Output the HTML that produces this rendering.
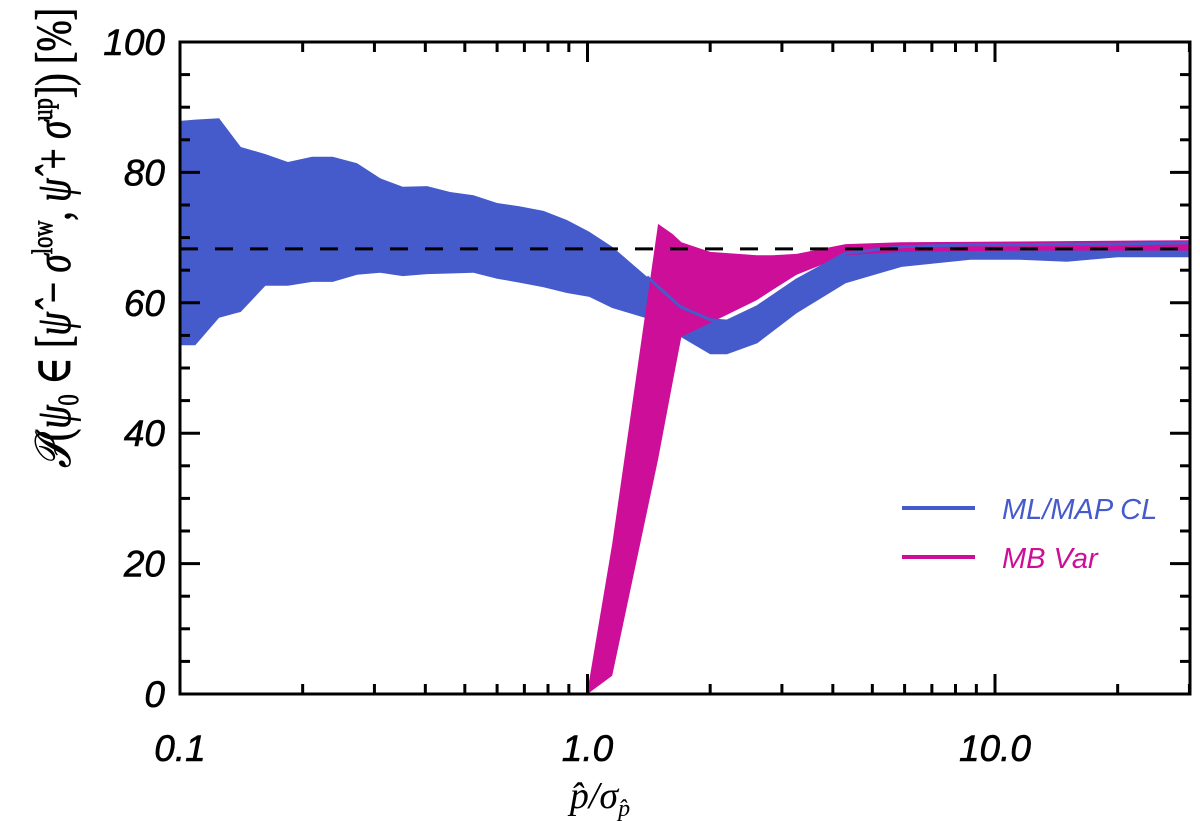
<!DOCTYPE html>
<html><head><meta charset="utf-8"><style>
html,body{margin:0;padding:0;background:#fff;}
svg{display:block;}
.tk{font-family:"Liberation Sans",sans-serif;font-style:italic;font-size:37px;fill:#000;stroke:#000;stroke-width:0.6px;}
.ml{font-family:"Liberation Serif","DejaVu Serif",serif;fill:#000;}
</style></head><body>
<svg id="chart" width="1200" height="821" xmlns="http://www.w3.org/2000/svg">
<g id="bands"></g>
<g id="axes"></g>
<g>
<line x1="902" y1="508" x2="975" y2="508" stroke="#465bcb" stroke-width="4"/>
<text x="1002" y="519" class="tk" style="font-size:29px;fill:#465bcb;stroke:none">ML/MAP CL</text>
<line x1="902" y1="557" x2="975" y2="557" stroke="#cc0e98" stroke-width="4"/>
<text x="1002" y="568" class="tk" style="font-size:29px;fill:#cc0e98;stroke:none">MB Var</text>
</g>
<text class="ml" x="600" y="808" text-anchor="middle" font-size="38" font-style="italic">p̂/σ<tspan font-size="24" dy="8">p̂</tspan></text>
<text class="ml" transform="translate(70,238) rotate(-90)" text-anchor="middle" font-size="50" stroke="#000" stroke-width="0.8" textLength="460" lengthAdjust="spacingAndGlyphs"><tspan font-style="italic">𝒫</tspan>(<tspan font-style="italic">ψ</tspan><tspan font-size="30" dy="8">0</tspan><tspan dy="-8"> ∈ [</tspan><tspan font-style="italic">ψ̂</tspan> − <tspan font-style="italic">σ</tspan><tspan font-size="30" dy="-18">low</tspan><tspan dy="18">, </tspan><tspan font-style="italic">ψ̂</tspan> + <tspan font-style="italic">σ</tspan><tspan font-size="30" dy="-18">up</tspan><tspan dy="18">]) [%]</tspan></text>
</svg>
<script>
const blueX=[0.1,0.109,0.1247,0.141,0.162,0.184,0.211,0.237,0.272,0.31,0.352,0.404,0.46,0.525,0.6,0.68,0.78,0.89,1.01,1.15,1.4,1.69,2.0,2.2,2.61,3.26,4.3,5.9,8.7,11.5,15,20,30];
const blueHigh=[87.9,88.1,88.3,83.9,82.8,81.6,82.4,82.4,81.4,79.1,77.8,77.9,77.0,76.5,75.3,74.8,74.1,72.7,70.9,68.6,64.0,59.4,57.4,57.2,59.4,63.5,67.6,68.6,68.9,68.9,69.0,69.0,69.2];
const blueLow=[53.5,53.5,57.7,58.6,62.6,62.6,63.2,63.2,64.3,64.6,64.1,64.4,64.5,64.6,63.7,63.1,62.4,61.5,60.9,59.2,57.6,54.8,52.1,52.1,53.8,58.4,63.0,65.5,66.6,66.6,66.3,67.0,67.0];
const mbX=[1.0,1.15,1.49,1.62,1.70,2.0,2.6,2.85,3.26,4.3,5.9,11.5,30];
const mbLow=[0,2.8,36,48,54.8,56.9,60.4,62.0,64.3,67.3,67.8,68.0,68.0];
const mbHigh=[0.5,23,72.1,70.5,69.3,67.8,67.3,67.3,67.5,69.0,69.3,69.4,69.6];
const yTicks=[0,20,40,60,80,100];
const xTickVals=[0.1,1,10];
const xTickLabels=["0.1","1.0","10.0"];
const refLevel=68.27;

const X0=180,X1=1190,Y0=694,Y1=42,DEC=407.5;
const sx=v=>X0+DEC*(Math.log10(v)+1);
const sy=v=>Y0-(v/100)*(Y0-Y1);
const NS="http://www.w3.org/2000/svg";
function mk(tag,parent,attrs){const e=document.createElementNS(NS,tag);for(const k in attrs)e.setAttribute(k,attrs[k]);parent.appendChild(e);return e;}
const bands=document.getElementById('bands'),axes=document.getElementById('axes');
function bandPath(xs,lo,hi){let d='';xs.forEach((x,i)=>{d+=(i?'L':'M')+sx(x).toFixed(1)+','+sy(hi[i]).toFixed(1);});for(let i=xs.length-1;i>=0;i--)d+='L'+sx(xs[i]).toFixed(1)+','+sy(lo[i]).toFixed(1);return d+'Z';}
const b=mk('path',bands,{d:bandPath(blueX,blueLow,blueHigh),fill:'#465bcb'});


const m=mk('path',bands,{d:bandPath(mbX,mbLow,mbHigh),fill:'#cc0e98'});


let ld='';blueX.forEach((x,i)=>{if(x>=1.3)ld+=(ld?'L':'M')+sx(x).toFixed(1)+','+sy(blueHigh[i]).toFixed(1);});
const bl=mk('path',bands,{d:ld,fill:'none',stroke:'#465bcb','stroke-width':3});


const rl=mk('line',bands,{x1:X0,x2:X1,y1:sy(refLevel),y2:sy(refLevel),stroke:'#000','stroke-width':3,'stroke-dasharray':'18,17'});


const fr=mk('rect',axes,{x:X0,y:Y1,width:X1-X0,height:Y0-Y1,fill:'none',stroke:'#000','stroke-width':3});


for(let v=0;v<=100;v+=5){const L=v%20===0?20:10;
 mk('line',axes,{x1:X0,x2:X0+L,y1:sy(v),y2:sy(v),stroke:'#000','stroke-width':3});
 mk('line',axes,{x1:X1,x2:X1-L,y1:sy(v),y2:sy(v),stroke:'#000','stroke-width':3});}
yTicks.forEach(v=>{const t=mk('text',axes,{x:165,y:sy(v)+13,'text-anchor':'end',class:'tk'});t.textContent=v;
 
 });
for(let d=0.1;d<30;d*=10){for(let k=1;k<10;k++){const v=d*k;if(v>30.5)break;const px=sx(v);if(px>X1)break;const L=k===1?20:10;
 mk('line',axes,{x1:px,x2:px,y1:Y0,y2:Y0-L,stroke:'#000','stroke-width':3});
 mk('line',axes,{x1:px,x2:px,y1:Y1,y2:Y1+L,stroke:'#000','stroke-width':3});}}
xTickVals.forEach((v,i)=>{const t=mk('text',axes,{x:sx(v),y:761,'text-anchor':'middle',class:'tk'});t.textContent=xTickLabels[i];
 
 });
</script>
</body></html>
